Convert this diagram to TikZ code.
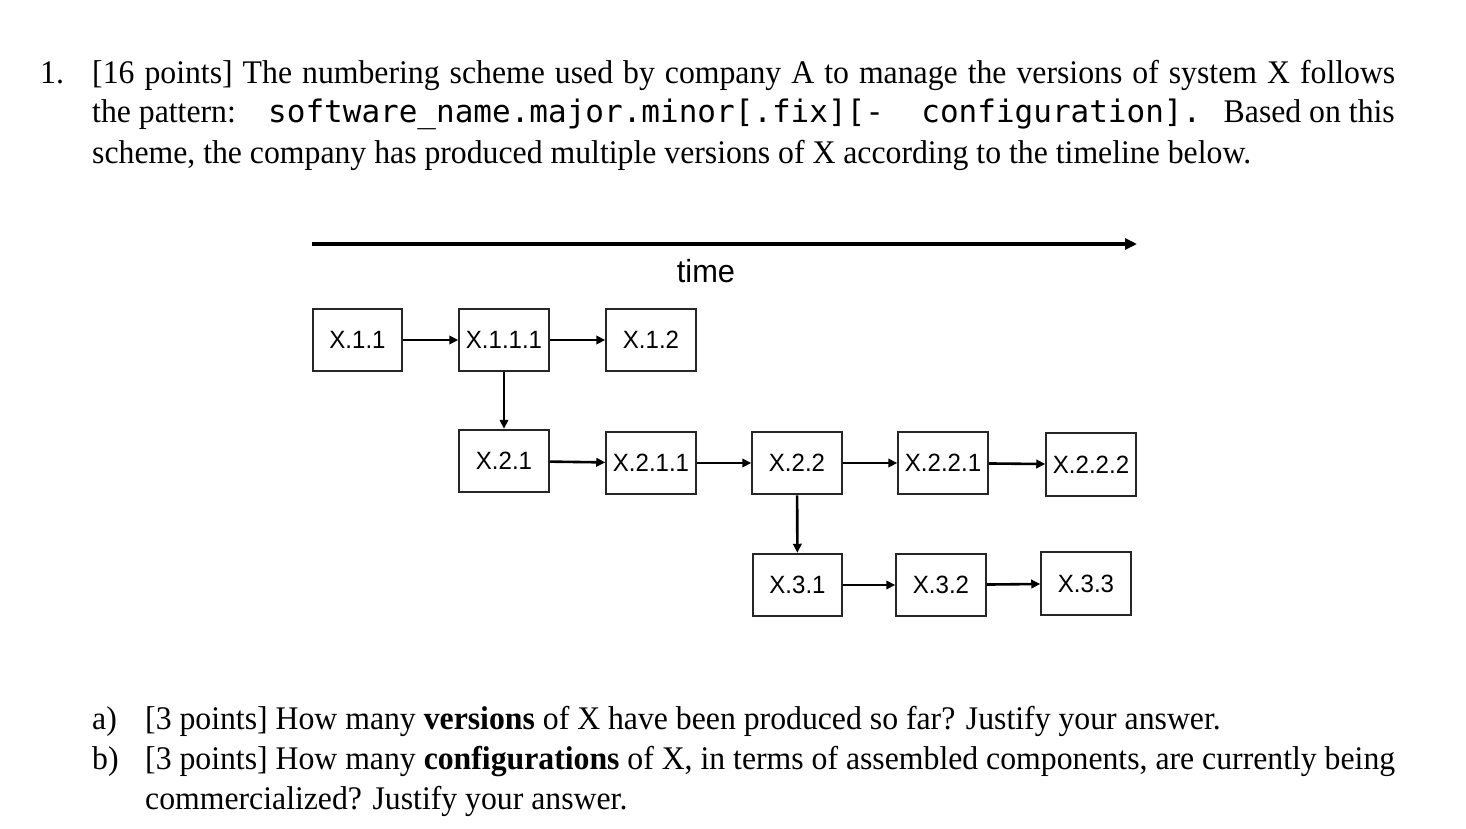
\documentclass[tikz,border=0pt]{standalone}
\usepackage{fontspec}
\setmainfont[FakeStretch=0.962]{Liberation Serif}
\newfontfamily\arialf[FakeStretch=0.962]{Liberation Sans}
\newfontfamily\monof{DejaVu Sans Mono}
\usetikzlibrary{arrows.meta}
\begin{document}
\begin{tikzpicture}[x=1pt,y=-1pt,
  txt/.style={anchor=base west, inner sep=0pt, font=\fontsize{33}{40}\selectfont},
  mono/.style={anchor=base west, inner sep=0pt, font=\monof\fontsize{31}{36}\selectfont},
  vbox/.style={draw=black!85, line width=2pt, minimum width=89.5pt, minimum height=62.5pt, inner sep=0pt, font=\arialf\fontsize{25}{28}\selectfont},
  conn/.style={line width=2.6pt, -{Triangle[length=9pt,width=8.5pt]}},
]
\useasboundingbox (0,0) rectangle (1466,828);
% header text
\node[txt] (num) at (40,83) {1.};
\node[txt] (l1) at (92,83) {\makebox[1303pt][s]{[16 points] The numbering scheme used by company A to manage the versions of system X follows}};
\node[txt] (l2a) at (92,122) {the pattern:};
\node[mono] (l2b) at (268,122) {software\_name.major.minor[.fix][-\ \ configuration].};
\node[txt, anchor=base east] (l2c) at (1395,122) {Based on this};
\node[txt] (l3) at (92,163) {scheme, the company has produced multiple versions of X according to the timeline below.};
% timeline
\coordinate (t0) at (312,244);
\coordinate (t1) at (1137,244);
\draw[line width=3.5pt, -{Triangle[length=12pt,width=11pt]}] (t0) -- (t1);
\node[inner sep=0pt, font=\arialf\fontsize{32}{36}\selectfont] (time) at (706,271) {time};
% boxes
\node[vbox] (a1) at (357.5,340) {X.1.1};
\node[vbox] (a2) at (504,340) {X.1.1.1};
\node[vbox] (a3) at (651,340) {X.1.2};
\node[vbox] (b1) at (504,461) {X.2.1};
\node[vbox] (b2) at (651,463) {X.2.1.1};
\node[vbox] (b3) at (797,463) {X.2.2};
\node[vbox] (b4) at (943,463) {X.2.2.1};
\node[vbox] (b5) at (1091,464.5) {X.2.2.2};
\node[vbox] (c1) at (797.5,585) {X.3.1};
\node[vbox] (c2) at (941,585) {X.3.2};
\node[vbox] (c3) at (1086,583.5) {X.3.3};
% connectors
\draw[conn] (a1) -- (a2);
\draw[conn] (a2) -- (a3);
\draw[conn] (a2) -- (b1);
\draw[conn] (b1) -- (b2);
\draw[conn] (b2) -- (b3);
\draw[conn] (b3) -- (b4);
\draw[conn] (b4) -- (b5);
\draw[conn] (b3) -- (c1);
\draw[conn] (c1) -- (c2);
\draw[conn] (c2) -- (c3);
% questions
\node[txt] (qa) at (92,729) {a)};
\node[txt] (qat) at (145,729) {[3 points] How many \textbf{versions} of X have been produced so far? Justify your answer.};
\node[txt] (qb) at (92,769) {b)};
\node[txt] (qbt) at (145,769) {\makebox[1250pt][s]{[3 points] How many \textbf{configurations} of X, in terms of assembled components, are currently being}};
\node[txt] (qbt2) at (145,809) {commercialized? Justify your answer.};
\end{tikzpicture}
\end{document}
